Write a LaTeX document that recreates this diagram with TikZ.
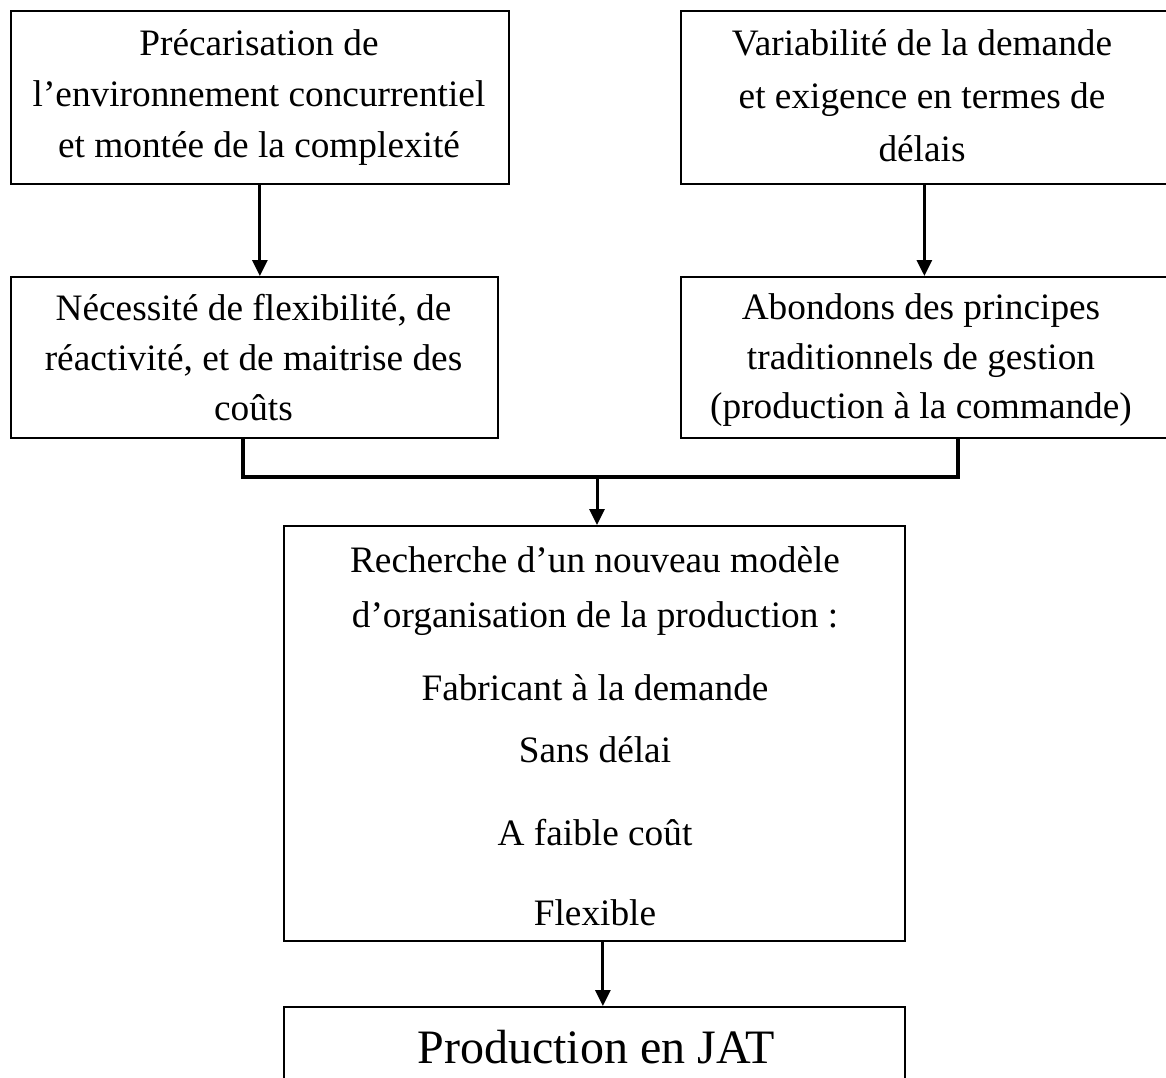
\documentclass[tikz,border=0pt]{standalone}
\usepackage{fontspec}
\setmainfont{Liberation Serif}
\usetikzlibrary{arrows.meta,calc}
\begin{document}
\begin{tikzpicture}[x=1pt,y=-1pt,
  box/.style={draw, line width=1.8pt, rectangle, inner sep=0pt, anchor=north west},
  txt/.style={font=\fontsize{37.3}{45}\selectfont, anchor=base, inner sep=0pt},
  bigtxt/.style={font=\fontsize{48}{56}\selectfont, anchor=base, inner sep=0pt},
  arr/.style={line width=3pt, -{Triangle[length=16pt,width=15pt]}},
  conn/.style={line width=3.4pt}
]
\clip (0,0) rectangle (1166,1077);
\fill[white] (0,0) rectangle (1166,1077);

% boxes
\node[box, minimum width=498pt, minimum height=173pt] (b1) at (10,10) {};
\node[box, minimum width=487pt, minimum height=173pt] (b2) at (680,10) {};
\node[box, minimum width=487pt, minimum height=161pt] (b3) at (10,276) {};
\node[box, minimum width=487pt, minimum height=161pt] (b4) at (680,276) {};
\node[box, minimum width=621pt, minimum height=415pt] (b5) at (283,525) {};
\node[box, minimum width=621pt, minimum height=100pt] (b6) at (283,1006) {};

% texts
\node[txt] (t1a) at (259,55) {Précarisation de};
\node[txt] (t1b) at (259,106) {l’environnement concurrentiel};
\node[txt] (t1c) at (259,157) {et montée de la complexité};

\node[txt] (t2a) at (922,55) {Variabilité de la demande};
\node[txt] (t2b) at (922,108) {et exigence en termes de};
\node[txt] (t2c) at (922,161) {délais};

\node[txt] (t3a) at (253.5,320) {Nécessité de flexibilité, de};
\node[txt] (t3b) at (253.5,370) {réactivité, et de maitrise des};
\node[txt] (t3c) at (253.5,420) {coûts};

\node[txt] (t4a) at (921,319) {Abondons des principes};
\node[txt] (t4b) at (921,369) {traditionnels de gestion};
\node[txt] (t4c) at (921,418) {(production à la commande)};

\node[txt] (t5a) at (595,572) {Recherche d’un nouveau modèle};
\node[txt] (t5b) at (595,627) {d’organisation de la production :};
\node[txt] (t5c) at (595,700) {Fabricant à la demande};
\node[txt] (t5d) at (595,762) {Sans délai};
\node[txt] (t5e) at (595,845) {A faible coût};
\node[txt] (t5f) at (595,925) {Flexible};

\node[bigtxt] (t6) at (596,1063) {Production en JAT};

% connectors
\draw[arr] (b1.south) -- (b1.south |- b3.north);
\draw[arr] (b2.south) -- (b2.south |- b4.north);
\coordinate (j) at (597,477);
\draw[conn] ([xshift=-11.5pt]b3.south) |- (j) -| ([xshift=33.5pt]b4.south);
\draw[arr] (j) -- (j |- b5.north);
\draw[arr] ([xshift=8.5pt]b5.south) -- ([xshift=8.5pt]b5.south |- b6.north);
\end{tikzpicture}
\end{document}
